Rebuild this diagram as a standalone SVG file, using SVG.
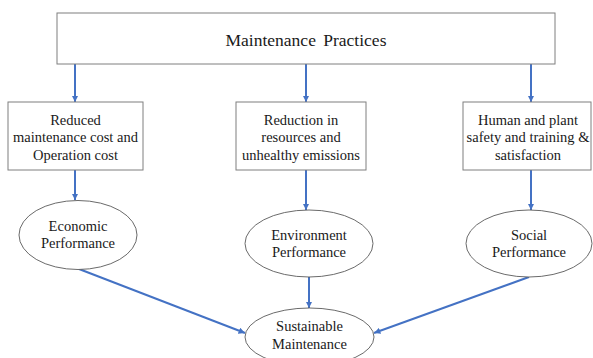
<svg xmlns="http://www.w3.org/2000/svg" width="593" height="358" viewBox="0 0 593 358">
<defs>
<marker id="ah" viewBox="0 0 10 10" refX="10" refY="5" markerWidth="3.2" markerHeight="3.2" orient="auto" markerUnits="strokeWidth">
<path d="M0,0 L10,5 L0,10 z" fill="#4472C4"/>
</marker>
<style>
.box{fill:#fff;stroke:#7f7f7f;stroke-width:1}
.ell{fill:#fff;stroke:#595959;stroke-width:0.9}
.t{font-family:"Liberation Serif","Times New Roman",serif;font-size:14.5px;fill:#1a1a1a;text-anchor:middle}
.conn line{stroke:#4472C4;stroke-width:2;marker-end:url(#ah)}
</style>
</defs>
<rect width="593" height="358" fill="#fff"/>
<g class="conn" id="connectors">
<line x1="75" y1="64" x2="75" y2="102"/>
<line x1="306" y1="64" x2="306" y2="102"/>
<line x1="531" y1="64" x2="531" y2="102"/>
<line x1="75" y1="170" x2="75" y2="200"/>
<line x1="306" y1="170" x2="306" y2="210"/>
<line x1="531" y1="170" x2="531" y2="210"/>
<line x1="309" y1="277" x2="309" y2="308"/>
<line x1="79" y1="269" x2="245" y2="333"/>
<line x1="529" y1="277" x2="374" y2="333"/>
</g>
<g id="top">
<rect class="box" x="57" y="13" width="498" height="51"/>
<text class="t" x="306" y="46" style="font-size:17.5px" word-spacing="3">Maintenance Practices</text>
</g>
<g id="box-cost">
<rect class="box" x="8" y="102" width="135" height="68"/>
<text class="t" x="75.5" y="124.5">Reduced</text>
<text class="t" x="75.5" y="142">maintenance cost and</text>
<text class="t" x="75.5" y="159.5">Operation cost</text>
</g>
<g id="box-resources">
<rect class="box" x="236" y="102" width="130" height="68"/>
<text class="t" x="301" y="124.5">Reduction in</text>
<text class="t" x="301" y="142">resources and</text>
<text class="t" x="301" y="159.5">unhealthy emissions</text>
</g>
<g id="box-safety">
<rect class="box" x="463" y="102" width="128" height="68"/>
<text class="t" x="528" y="124.5">Human and plant</text>
<text class="t" x="528" y="142">safety and training &amp;</text>
<text class="t" x="528" y="159.5">satisfaction</text>
</g>
<g id="economic">
<ellipse class="ell" cx="78" cy="235" rx="59" ry="34.5"/>
<text class="t" x="78" y="231">Economic</text>
<text class="t" x="78" y="248">Performance</text>
</g>
<g id="environment">
<ellipse class="ell" cx="309" cy="243.5" rx="64" ry="33.5"/>
<text class="t" x="309" y="240">Environment</text>
<text class="t" x="309" y="257">Performance</text>
</g>
<g id="social">
<ellipse class="ell" cx="529" cy="243.5" rx="63" ry="33.5"/>
<text class="t" x="529" y="240">Social</text>
<text class="t" x="529" y="257">Performance</text>
</g>
<g id="sustainable">
<ellipse class="ell" cx="309.5" cy="337" rx="64.5" ry="29"/>
<text class="t" x="309.5" y="331">Sustainable</text>
<text class="t" x="309.5" y="348.5">Maintenance</text>
</g>
</svg>
